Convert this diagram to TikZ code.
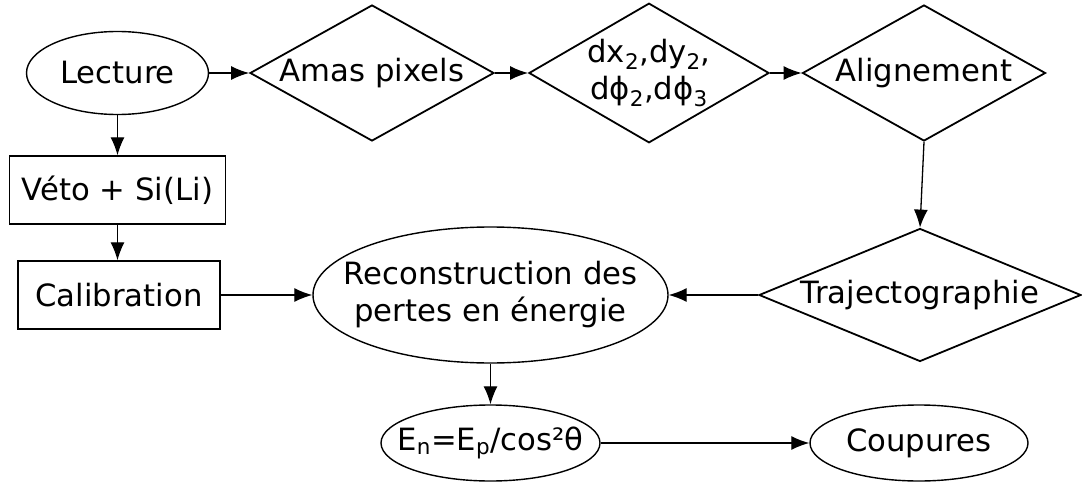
\documentclass[tikz,border=0pt]{standalone}
\usepackage{fontspec}
\setmainfont{DejaVu Sans}
\usetikzlibrary{shapes.geometric,arrows.meta}
\begin{document}
\begin{tikzpicture}[x=1pt,y=-1pt,
  every node/.style={font=\fontsize{30.7}{37}\selectfont, align=center},
  ell/.style={draw, ellipse, line width=1.4pt, inner sep=-60pt},
  dia/.style={draw, diamond, line width=1.8pt, inner sep=0pt},
  boxn/.style={draw, rectangle, line width=1.4pt, inner sep=0pt},
  arr/.style={-{Latex[length=18pt,width=14pt]}, line width=1.3pt}]
\useasboundingbox (0,0) rectangle (1082,503);
\node[ell, minimum width=182, minimum height=83] (lect) at (117.5,73) {Lecture};
\node[dia, aspect=1.794, minimum width=244, minimum height=136] (amas) at (372,73) {Amas pixels};
\node[dia, aspect=1.72, minimum width=234, minimum height=136] (dxd) at (649,73) {dx\textsubscript{2},dy\textsubscript{2},\\dϕ\textsubscript{2},dϕ\textsubscript{3}};
\node[dia, aspect=1.787, minimum width=243, minimum height=136] (align) at (924,73) {Alignement};
\node[boxn, minimum width=216, minimum height=68] (veto) at (117.5,190) {Véto + Si(Li)};
\node[boxn, minimum width=202, minimum height=68] (calib) at (119,295) {Calibration};
\node[ell, minimum width=355, minimum height=136] (reco) at (490.5,295) {Reconstruction des\\pertes en énergie};
\node[dia, aspect=2.42, minimum width=322, minimum height=133] (traj) at (920,295) {Trajectographie};
\node[ell, minimum width=219, minimum height=76] (en) at (490.5,443) {E\textsubscript{n}=E\textsubscript{p}/cos²θ};
\node[ell, minimum width=218, minimum height=76] (coup) at (919,443) {Coupures};
\draw[arr] (lect.east) -- (amas.west);
\draw[arr] (amas.east) -- (dxd.west);
\draw[arr] (dxd.east) -- (align.west);
\draw[arr] (align.south) -- (traj.north);
\draw[arr] (lect.south) -- (veto.north);
\draw[arr] (veto.south) -- (veto.south |- calib.north);
\draw[arr] (calib.east) -- (reco.west);
\draw[arr] (traj.west) -- (reco.east);
\draw[arr] (reco.south) -- (en.north);
\draw[arr] (en.east) -- (coup.west);
\end{tikzpicture}
\end{document}
